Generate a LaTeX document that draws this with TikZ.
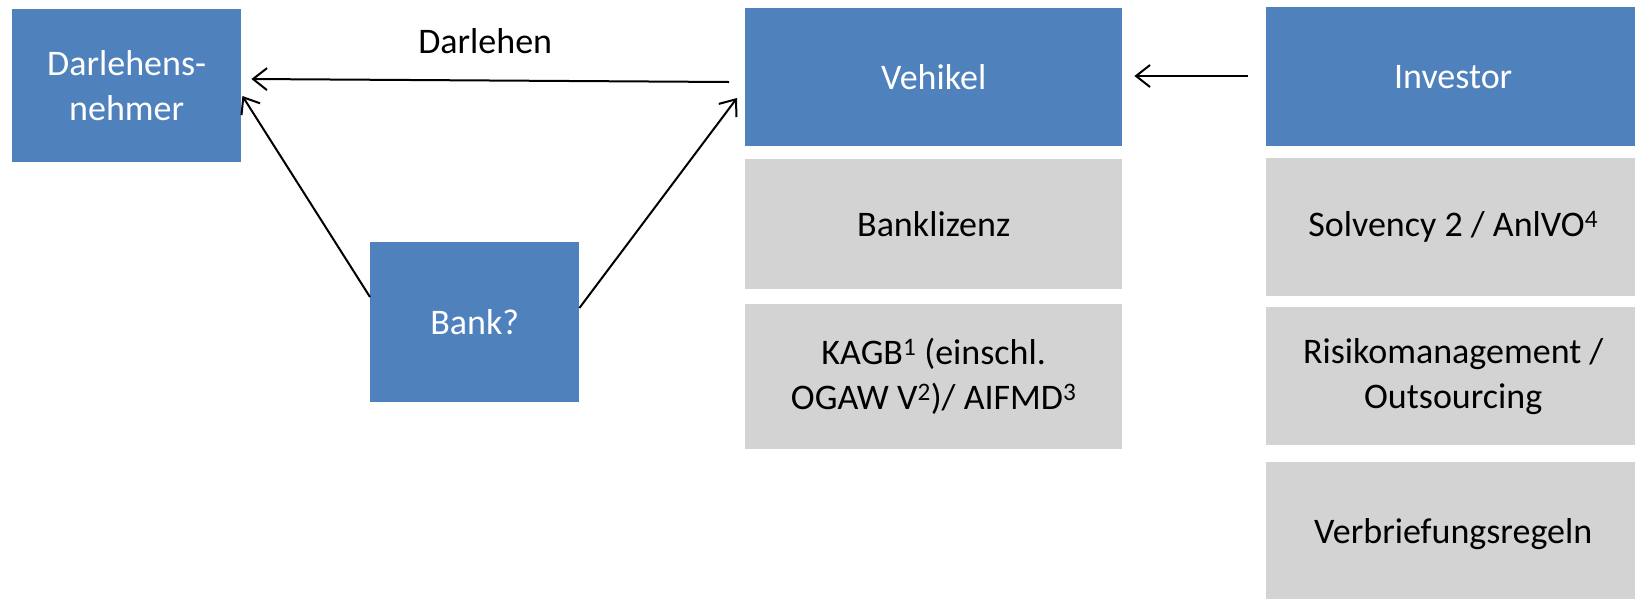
\documentclass[tikz,border=0pt]{standalone}
\usepackage{fontspec}
\setmainfont{Carlito}
\usetikzlibrary{arrows.meta,calc}
\definecolor{boxblue}{HTML}{4F81BD}
\definecolor{boxgrey}{HTML}{D3D3D3}
\tikzset{
  base/.style={anchor=north west, inner sep=0pt, align=center, font=\fontsize{36}{45}\selectfont},
  bluebox/.style={base, fill=boxblue, text=white},
  greybox/.style={base, fill=boxgrey, text=black},
  conn/.style={line width=2pt, -{Straight Barb[length=14pt,width=22pt,line width=2pt]}},
}
\begin{document}
\begin{tikzpicture}[x=1pt,y=-1pt]
\useasboundingbox (0,0) rectangle (1635,598);
\clip (0,0) rectangle (1635,598);
\node[bluebox, minimum width=229pt, minimum height=153pt] (dn) at (12,9) {Darlehens-\\nehmer};
\node[bluebox, minimum width=209pt, minimum height=160pt] (bank) at (370,242) {Bank?};
\node[bluebox, minimum width=377pt, minimum height=138pt] (veh) at (745,8) {Vehikel};
\node[greybox, minimum width=377pt, minimum height=130pt] (blz) at (745,159) {Banklizenz};
\node[greybox, minimum width=377pt, minimum height=145pt] (kagb) at (745,304) {KAGB\textsuperscript{1} (einschl.\\OGAW V\textsuperscript{2})/ AIFMD\textsuperscript{3}};
\node[bluebox, minimum width=374pt, minimum height=139pt] (inv) at (1266,7) {Investor};
\node[greybox, minimum width=374pt, minimum height=138pt] (solv) at (1266,158) {Solvency 2 / AnlVO\textsuperscript{4}};
\node[greybox, minimum width=374pt, minimum height=138pt] (risk) at (1266,307) {Risikomanagement /\\Outsourcing};
\node[greybox, minimum width=374pt, minimum height=144pt] (verb) at (1266,462) {Verbriefungsregeln};
% connectors
\draw[conn] ($(veh.north west)+(-16,74)$) -- node[font=\fontsize{36}{45}\selectfont, above=22pt, xshift=-5pt] (lbl) {Darlehen} ($(dn.north east)+(10,70)$);
\draw[conn] ($(bank.north west)+(0,55)$) -- ($(dn.north east)+(1,87)$);
\draw[conn] ($(bank.north east)+(0,66)$) -- ($(veh.north west)+(-8,90)$);
\draw[conn] ($(inv.north west)+(-18,69)$) -- ($(veh.north east)+(12,68)$);
\end{tikzpicture}
\end{document}
